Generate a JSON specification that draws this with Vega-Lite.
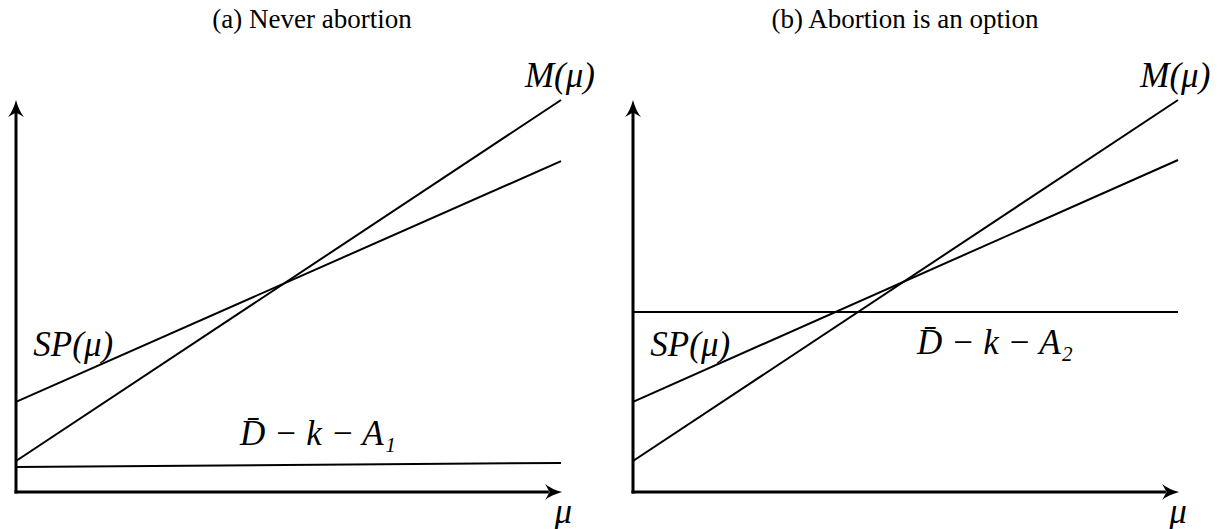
{
  "$schema": "https://vega.github.io/schema/vega-lite/v6.json",
  "padding": 0,
  "spacing": 0,
  "background": "white",
  "config": {"view": {"stroke": null}, "concat": {"spacing": 0}},
  "datasets": {
    "segments": [
      {"panel": "a", "kind": "axis", "name": "vertical axis", "x": 0, "y": 0, "x2": 0, "y2": 0.975},
      {"panel": "a", "kind": "axis", "name": "mu axis", "x": 0, "y": 0, "x2": 0.975, "y2": 0},
      {"panel": "a", "kind": "curve", "name": "M", "x": 0, "y": 0.079, "x2": 1, "y2": 1},
      {"panel": "a", "kind": "curve", "name": "SP", "x": 0, "y": 0.23, "x2": 1, "y2": 0.844},
      {"panel": "a", "kind": "curve", "name": "D-k-A1", "x": 0, "y": 0.064, "x2": 1, "y2": 0.074},
      {"panel": "b", "kind": "axis", "name": "vertical axis", "x": 0, "y": 0, "x2": 0, "y2": 0.975},
      {"panel": "b", "kind": "axis", "name": "mu axis", "x": 0, "y": 0, "x2": 0.975, "y2": 0},
      {"panel": "b", "kind": "curve", "name": "M", "x": 0, "y": 0.079, "x2": 1, "y2": 1},
      {"panel": "b", "kind": "curve", "name": "SP", "x": 0, "y": 0.23, "x2": 1, "y2": 0.847},
      {"panel": "b", "kind": "curve", "name": "D-k-A2", "x": 0, "y": 0.459, "x2": 1, "y2": 0.459}
    ],
    "arrows": [
      {"panel": "a", "dir": "up", "x": 0, "y": 1},
      {"panel": "a", "dir": "right", "x": 1.002, "y": 0},
      {"panel": "b", "dir": "up", "x": 0, "y": 1},
      {"panel": "b", "dir": "right", "x": 1.002, "y": 0}
    ],
    "titles": [
      {"panel": "a", "text": "(a) Never abortion", "x": 0.543, "y": 1.204},
      {"panel": "b", "text": "(b) Abortion is an option", "x": 0.499, "y": 1.204}
    ],
    "labels": [
      {"panel": "a", "text": "M(μ)", "x": 0.998, "y": 1.061},
      {"panel": "a", "text": "SP(μ)", "x": 0.105, "y": 0.375},
      {"panel": "a", "text": "D̄ − k − A₁", "x": 0.554, "y": 0.148},
      {"panel": "a", "text": "μ", "x": 1.004, "y": -0.05},
      {"panel": "b", "text": "M(μ)", "x": 0.995, "y": 1.061},
      {"panel": "b", "text": "SP(μ)", "x": 0.105, "y": 0.375},
      {"panel": "b", "text": "D̄ − k − A₂", "x": 0.664, "y": 0.38},
      {"panel": "b", "text": "μ", "x": 1.0, "y": -0.05}
    ]
  },
  "hconcat": [
    {
      "width": 611,
      "height": 529,
      "layer": [
        {
          "data": {"name": "segments"},
          "transform": [{"filter": "datum.panel === 'a' && datum.kind === 'axis'"}],
          "mark": {"type": "rule", "color": "black", "strokeWidth": 3, "strokeCap": "square"},
          "encoding": {
            "x": {"field": "x", "type": "quantitative", "scale": {"domain": [-0.02936, 1.0917], "nice": false, "zero": false}, "axis": null},
            "y": {"field": "y", "type": "quantitative", "scale": {"domain": [-0.0944, 1.2551], "nice": false, "zero": false}, "axis": null},
            "x2": {"field": "x2"},
            "y2": {"field": "y2"}
          }
        },
        {
          "data": {"name": "segments"},
          "transform": [{"filter": "datum.panel === 'a' && datum.kind === 'curve'"}],
          "mark": {"type": "rule", "color": "black", "strokeWidth": 2},
          "encoding": {
            "x": {"field": "x", "type": "quantitative", "scale": {"domain": [-0.02936, 1.0917], "nice": false, "zero": false}, "axis": null},
            "y": {"field": "y", "type": "quantitative", "scale": {"domain": [-0.0944, 1.2551], "nice": false, "zero": false}, "axis": null},
            "x2": {"field": "x2"},
            "y2": {"field": "y2"}
          }
        },
        {
          "data": {"name": "arrows"},
          "transform": [{"filter": "datum.panel === 'a' && datum.dir === 'up'"}],
          "mark": {"type": "point", "filled": true, "color": "black", "opacity": 1, "size": 400,
                   "shape": "M0,0 Q0.3,1.1 0.8,1.7 L0,1.25 L-0.8,1.7 Q-0.3,1.1 0,0 Z"},
          "encoding": {
            "x": {"field": "x", "type": "quantitative", "scale": {"domain": [-0.02936, 1.0917], "nice": false, "zero": false}, "axis": null},
            "y": {"field": "y", "type": "quantitative", "scale": {"domain": [-0.0944, 1.2551], "nice": false, "zero": false}, "axis": null}
          }
        },
        {
          "data": {"name": "arrows"},
          "transform": [{"filter": "datum.panel === 'a' && datum.dir === 'right'"}],
          "mark": {"type": "point", "filled": true, "color": "black", "opacity": 1, "size": 400,
                   "shape": "M0,0 Q-1.1,0.3 -1.7,0.8 L-1.25,0 L-1.7,-0.8 Q-1.1,-0.3 0,0 Z"},
          "encoding": {
            "x": {"field": "x", "type": "quantitative", "scale": {"domain": [-0.02936, 1.0917], "nice": false, "zero": false}, "axis": null},
            "y": {"field": "y", "type": "quantitative", "scale": {"domain": [-0.0944, 1.2551], "nice": false, "zero": false}, "axis": null}
          }
        },
        {
          "data": {"name": "titles"},
          "transform": [{"filter": "datum.panel === 'a'"}],
          "mark": {"type": "text", "font": "Liberation Serif", "fontSize": 27, "color": "black", "align": "center", "baseline": "middle"},
          "encoding": {
            "x": {"field": "x", "type": "quantitative", "scale": {"domain": [-0.02936, 1.0917], "nice": false, "zero": false}, "axis": null},
            "y": {"field": "y", "type": "quantitative", "scale": {"domain": [-0.0944, 1.2551], "nice": false, "zero": false}, "axis": null},
            "text": {"field": "text"}
          }
        },
        {
          "data": {"name": "labels"},
          "transform": [{"filter": "datum.panel === 'a'"}],
          "mark": {"type": "text", "font": "Liberation Serif", "fontStyle": "italic", "fontSize": 35, "color": "black", "align": "center", "baseline": "middle"},
          "encoding": {
            "x": {"field": "x", "type": "quantitative", "scale": {"domain": [-0.02936, 1.0917], "nice": false, "zero": false}, "axis": null},
            "y": {"field": "y", "type": "quantitative", "scale": {"domain": [-0.0944, 1.2551], "nice": false, "zero": false}, "axis": null},
            "text": {"field": "text"}
          }
        }
      ]
    },
    {
      "width": 611,
      "height": 529,
      "layer": [
        {
          "data": {"name": "segments"},
          "transform": [{"filter": "datum.panel === 'b' && datum.kind === 'axis'"}],
          "mark": {"type": "rule", "color": "black", "strokeWidth": 3, "strokeCap": "square"},
          "encoding": {
            "x": {"field": "x", "type": "quantitative", "scale": {"domain": [-0.04037, 1.0807], "nice": false, "zero": false}, "axis": null},
            "y": {"field": "y", "type": "quantitative", "scale": {"domain": [-0.0944, 1.2551], "nice": false, "zero": false}, "axis": null},
            "x2": {"field": "x2"},
            "y2": {"field": "y2"}
          }
        },
        {
          "data": {"name": "segments"},
          "transform": [{"filter": "datum.panel === 'b' && datum.kind === 'curve'"}],
          "mark": {"type": "rule", "color": "black", "strokeWidth": 2},
          "encoding": {
            "x": {"field": "x", "type": "quantitative", "scale": {"domain": [-0.04037, 1.0807], "nice": false, "zero": false}, "axis": null},
            "y": {"field": "y", "type": "quantitative", "scale": {"domain": [-0.0944, 1.2551], "nice": false, "zero": false}, "axis": null},
            "x2": {"field": "x2"},
            "y2": {"field": "y2"}
          }
        },
        {
          "data": {"name": "arrows"},
          "transform": [{"filter": "datum.panel === 'b' && datum.dir === 'up'"}],
          "mark": {"type": "point", "filled": true, "color": "black", "opacity": 1, "size": 400,
                   "shape": "M0,0 Q0.3,1.1 0.8,1.7 L0,1.25 L-0.8,1.7 Q-0.3,1.1 0,0 Z"},
          "encoding": {
            "x": {"field": "x", "type": "quantitative", "scale": {"domain": [-0.04037, 1.0807], "nice": false, "zero": false}, "axis": null},
            "y": {"field": "y", "type": "quantitative", "scale": {"domain": [-0.0944, 1.2551], "nice": false, "zero": false}, "axis": null}
          }
        },
        {
          "data": {"name": "arrows"},
          "transform": [{"filter": "datum.panel === 'b' && datum.dir === 'right'"}],
          "mark": {"type": "point", "filled": true, "color": "black", "opacity": 1, "size": 400,
                   "shape": "M0,0 Q-1.1,0.3 -1.7,0.8 L-1.25,0 L-1.7,-0.8 Q-1.1,-0.3 0,0 Z"},
          "encoding": {
            "x": {"field": "x", "type": "quantitative", "scale": {"domain": [-0.04037, 1.0807], "nice": false, "zero": false}, "axis": null},
            "y": {"field": "y", "type": "quantitative", "scale": {"domain": [-0.0944, 1.2551], "nice": false, "zero": false}, "axis": null}
          }
        },
        {
          "data": {"name": "titles"},
          "transform": [{"filter": "datum.panel === 'b'"}],
          "mark": {"type": "text", "font": "Liberation Serif", "fontSize": 27, "color": "black", "align": "center", "baseline": "middle"},
          "encoding": {
            "x": {"field": "x", "type": "quantitative", "scale": {"domain": [-0.04037, 1.0807], "nice": false, "zero": false}, "axis": null},
            "y": {"field": "y", "type": "quantitative", "scale": {"domain": [-0.0944, 1.2551], "nice": false, "zero": false}, "axis": null},
            "text": {"field": "text"}
          }
        },
        {
          "data": {"name": "labels"},
          "transform": [{"filter": "datum.panel === 'b'"}],
          "mark": {"type": "text", "font": "Liberation Serif", "fontStyle": "italic", "fontSize": 35, "color": "black", "align": "center", "baseline": "middle"},
          "encoding": {
            "x": {"field": "x", "type": "quantitative", "scale": {"domain": [-0.04037, 1.0807], "nice": false, "zero": false}, "axis": null},
            "y": {"field": "y", "type": "quantitative", "scale": {"domain": [-0.0944, 1.2551], "nice": false, "zero": false}, "axis": null},
            "text": {"field": "text"}
          }
        }
      ]
    }
  ]
}
